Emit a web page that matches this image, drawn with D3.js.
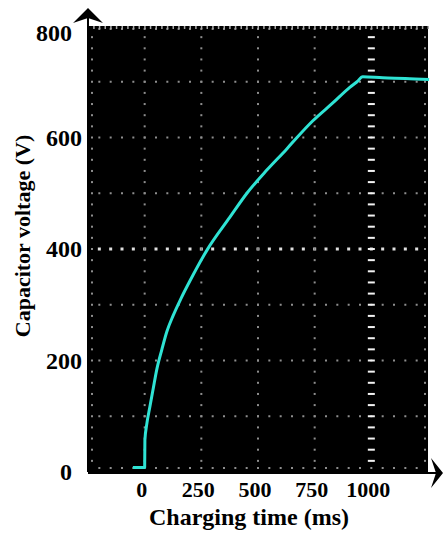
<!DOCTYPE html>
<html>
<head>
<meta charset="utf-8">
<script src="https://cdn.jsdelivr.net/npm/d3@7/dist/d3.min.js"></script>
<style>
  body { margin: 0; background: #fff; }
  svg { display: block; }
  text { font-family: "Liberation Serif", "DejaVu Serif", serif; font-weight: bold; fill: #000; }
</style>
</head>
<body>
<div id="chart"></div>
<script>
var svgWidth = 444;
var svgHeight = 533;

// scope trace
var timeMs = [-52, 0, 1, 9, 23, 37, 54, 76, 98, 125, 160, 200, 275, 376, 451, 540, 628, 672, 742, 830, 905, 937, 962, 1050, 1150, 1255];
var voltageV = [8, 8, 57, 85, 117, 148, 185, 220, 252, 280, 311, 343, 398, 457, 500, 542, 580, 600, 630, 662, 690, 700, 709, 707, 706, 704];

var xTicks = [0, 250, 500, 750, 1000];
var yTicks = [0, 200, 400, 600, 800];

var screen = { left: 88, right: 428, top: 26, bottom: 472 };

var svg = d3.select("#chart")
  .append("svg")
  .attr("width", svgWidth)
  .attr("height", svgHeight);

var xScale = d3.scaleLinear()
  .domain([-250, 1250])
  .range([screen.left, screen.right]);

var yScale = d3.scaleLinear()
  .domain([0, 800])
  .range([screen.bottom, screen.top]);

// black scope screen
svg.append("rect")
  .attr("x", screen.left)
  .attr("y", screen.top)
  .attr("width", screen.right - screen.left)
  .attr("height", screen.bottom - screen.top)
  .attr("fill", "#000");

var grid = svg.append("g").attr("class", "grid");

// one division = 250 ms, 100 V ; dots every 1/5 division
var xDivs = d3.range(-250, 1251, 250);
var yDivs = d3.range(0, 801, 100);
var xMinor = d3.range(-250, 1251, 50);
var yMinor = d3.range(0, 801, 20);

// horizontal grid lines (dots)
yDivs.forEach(function(v) {
  var center = (v === 400);
  grid.selectAll(null)
    .data(xMinor.filter(function(t) { return t > -250 && t < 1250; }))
    .enter()
    .append("rect")
    .attr("x", function(t) { return xScale(t) - (center ? 1.5 : 1); })
    .attr("y", function() {
      var y = yScale(v);
      if (v === 0) y -= 4;
      if (v === 800) y += 3;
      return y - (center ? 1.5 : 1);
    })
    .attr("width", center ? 3 : 2)
    .attr("height", center ? 3 : 2)
    .attr("fill", center ? "#e0e0e0" : "#8e8e8e");
});

// vertical grid lines (dots)
xDivs.forEach(function(t) {
  var marker = (t === 1000);
  grid.selectAll(null)
    .data(yMinor.filter(function(v) { return v > 0 && v < 800; }))
    .enter()
    .append("rect")
    .attr("x", function() {
      var x = xScale(t);
      if (t === -250) x += 4;
      if (t === 1250) x -= 3;
      return x - (marker ? 3.5 : 1);
    })
    .attr("y", function(v) { return yScale(v) - 1; })
    .attr("width", marker ? 7 : 2)
    .attr("height", 2)
    .attr("fill", marker ? "#f2f2f2" : "#8e8e8e");
});

// small ticks along the top edge
grid.selectAll(null)
  .data(d3.range(-250, 1251, 25))
  .enter()
  .append("rect")
  .attr("x", function(t) { return xScale(t) - 0.5; })
  .attr("y", screen.top)
  .attr("width", 1.5)
  .attr("height", 3)
  .attr("fill", "#aaa");

// charging curve
var line = d3.line()
  .x(function(d, i) { return xScale(timeMs[i]); })
  .y(function(d, i) { return yScale(voltageV[i]); })
  .curve(d3.curveMonotoneX);

svg.append("path")
  .datum(timeMs)
  .attr("d", line)
  .attr("fill", "none")
  .attr("stroke", "#2fe3d4")
  .attr("stroke-width", 3)
  .attr("stroke-linejoin", "round");

// axis lines with arrow heads
svg.append("line")
  .attr("x1", screen.left).attr("y1", screen.bottom)
  .attr("x2", screen.left).attr("y2", 14)
  .attr("stroke", "#000").attr("stroke-width", 2);

svg.append("path")
  .attr("d", "M" + screen.left + ",8 L" + (screen.left + 15) + ",23 L" + screen.left + ",18 L" + (screen.left - 15) + ",23 Z")
  .attr("fill", "#000");

svg.append("line")
  .attr("x1", screen.left).attr("y1", screen.bottom + 1)
  .attr("x2", 438).attr("y2", screen.bottom + 1)
  .attr("stroke", "#000").attr("stroke-width", 2);

svg.append("path")
  .attr("d", "M443," + (screen.bottom + 1) + " L431," + (screen.bottom - 14) + " L436," + (screen.bottom + 1) + " L431," + (screen.bottom + 16) + " Z")
  .attr("fill", "#000");

// tick labels
svg.append("g")
  .selectAll("text")
  .data(xTicks)
  .enter()
  .append("text")
  .attr("x", function(d) { return xScale(d) - 3; })
  .attr("y", 497)
  .attr("text-anchor", "middle")
  .attr("font-size", 22)
  .text(function(d) { return d; });

svg.append("g")
  .selectAll("text")
  .data(yTicks)
  .enter()
  .append("text")
  .attr("x", function(d) { return (d === 0 || d === 800) ? 72 : 82; })
  .attr("y", function(d) { return Math.max(yScale(d), 33); })
  .attr("dy", "0.35em")
  .attr("text-anchor", "end")
  .attr("font-size", 24)
  .text(function(d) { return d; });

// axis titles
svg.append("text")
  .attr("x", 249)
  .attr("y", 525)
  .attr("text-anchor", "middle")
  .attr("font-size", 24)
  .text("Charging time (ms)");

svg.append("text")
  .attr("transform", "translate(30,236) rotate(-90)")
  .attr("text-anchor", "middle")
  .attr("font-size", 22)
  .text("Capacitor voltage (V)");
</script>
</body>
</html>
